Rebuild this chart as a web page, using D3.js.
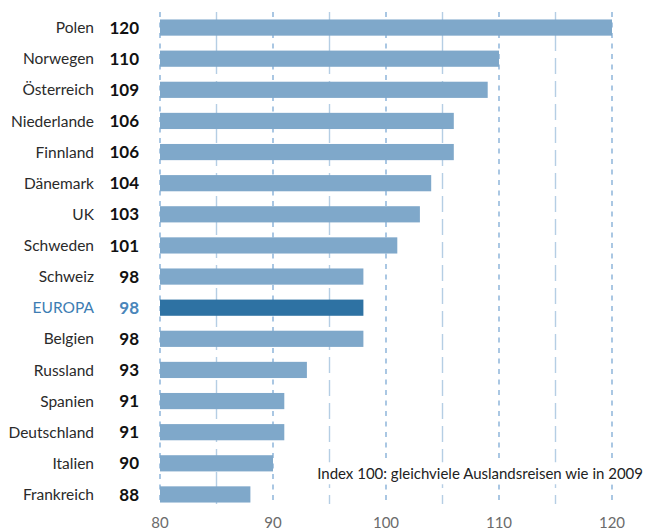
<!DOCTYPE html>
<html>
<head>
<meta charset="utf-8">
<script src="https://cdn.jsdelivr.net/npm/d3@7"></script>
<style>
  body { margin: 0; background: #fff; }
  text { font-family: Lato, "Open Sans", sans-serif; }
</style>
</head>
<body>
<div id="chart"></div>
<script>
// Auslandsreisen, Index 100 = 2009
var countries = ["Polen", "Norwegen", "Österreich", "Niederlande", "Finnland", "Dänemark",
    "UK", "Schweden", "Schweiz", "EUROPA", "Belgien", "Russland", "Spanien",
    "Deutschland", "Italien", "Frankreich"];
var values = [120, 110, 109, 106, 106, 104, 103, 101, 98, 98, 98, 93, 91, 91, 90, 88];
var tickValues = [80, 90, 100, 110, 120];
var minorTicks = [85, 95, 105, 115];
var note = "Index 100: gleichviele Auslandsreisen wie in 2009";

var W = 662, H = 530;
var svg = d3.select("#chart").append("svg").attr("width", W).attr("height", H);

var x = d3.scaleLinear().domain([80, 120]).range([160, 612]);
var y = d3.scaleBand().domain(countries).range([12, 510]).paddingInner(0.48).paddingOuter(0.24);

// grid
svg.selectAll("line.minor").data(minorTicks).enter().append("line")
    .attr("class", "minor")
    .attr("x1", function (d) { return x(d); }).attr("x2", function (d) { return x(d); })
    .attr("y1", 12).attr("y2", 504)
    .style("stroke", "#b5cee4").style("stroke-width", 1.4)
    .style("stroke-dasharray", "16,7");

svg.selectAll("line.major").data(tickValues).enter().append("line")
    .attr("class", "major")
    .attr("x1", function (d) { return x(d); }).attr("x2", function (d) { return x(d); })
    .attr("y1", 12).attr("y2", 504)
    .style("stroke", "#86b0d8").style("stroke-width", 1.4)
    .style("stroke-dasharray", "5,5.5");

// bars
svg.selectAll("rect.bar").data(countries).enter().append("rect")
    .attr("class", "bar")
    .attr("x", x(80))
    .attr("y", function (d) { return y(d); })
    .attr("width", function (d, i) { return x(values[i]) - x(80); })
    .attr("height", y.bandwidth())
    .style("fill", function (d) { return d == "EUROPA" ? "#2e72a3" : "#7fa8ca"; });

// labels
svg.selectAll("text.name").data(countries).enter().append("text")
    .attr("class", "name")
    .attr("x", 94)
    .attr("y", function (d) { return y(d) + y.bandwidth() / 2; })
    .attr("dy", "0.36em")
    .attr("text-anchor", "end")
    .style("font-size", "15.5px")
    .style("fill", function (d) { return d == "EUROPA" ? "#3d7db3" : "#2a2a2a"; })
    .style("font-weight", "400")
    .text(function (d) { return d; });

svg.selectAll("text.val").data(countries).enter().append("text")
    .attr("class", "val")
    .attr("x", 139)
    .attr("y", function (d) { return y(d) + y.bandwidth() / 2; })
    .attr("dy", "0.36em")
    .attr("text-anchor", "end")
    .style("font-size", "17px")
    .style("font-weight", "700")
    .style("fill", function (d) { return d == "EUROPA" ? "#4a86ba" : "#111"; })
    .text(function (d, i) { return values[i]; });

// axis labels
svg.selectAll("text.tick").data(tickValues).enter().append("text")
    .attr("class", "tick")
    .attr("x", function (d) { return x(d); })
    .attr("y", 528)
    .attr("text-anchor", "middle")
    .style("font-size", "15px")
    .style("fill", "#6b6b6b")
    .text(function (d) { return d; });

// note with white box
var noteG = svg.append("g");
var noteText = noteG.append("text")
    .attr("x", 643).attr("y", 474).attr("dy", "0.35em")
    .attr("text-anchor", "end")
    .style("font-size", "15px")
    .style("fill", "#222")
    .text(note);
var bb = noteText.node().getBBox();
noteG.insert("rect", "text")
    .attr("x", bb.x - 4).attr("y", bb.y - 2)
    .attr("width", bb.width + 8).attr("height", bb.height + 4)
    .style("fill", "#fff");
</script>
</body>
</html>
